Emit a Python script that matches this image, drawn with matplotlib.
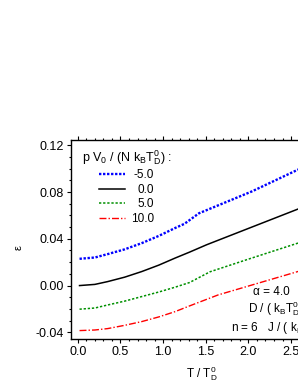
import matplotlib
matplotlib.use("Agg")
import matplotlib.pyplot as plt
from matplotlib.ticker import MultipleLocator, FormatStrFormatter

plt.rcParams['font.family'] = ['Liberation Sans', 'DejaVu Sans']
plt.rcParams['mathtext.fontset'] = 'custom'
plt.rcParams['mathtext.rm'] = 'Liberation Sans'
plt.rcParams['mathtext.it'] = 'Liberation Sans:italic'
plt.rcParams['mathtext.bf'] = 'Liberation Sans:bold'
plt.rcParams['mathtext.sf'] = 'Liberation Sans'
plt.rcParams['mathtext.default'] = 'regular'
plt.rcParams['axes.unicode_minus'] = False

# ---- data ----
T_m5 = [0.02, 0.2, 0.35, 0.55, 0.75, 0.95, 1.14, 1.25, 1.42, 2.04, 2.58, 3.0]
e_m5 = [0.0229, 0.0240, 0.0269, 0.0310, 0.0363, 0.0425, 0.0492, 0.0528, 0.0618, 0.0805, 0.0991, 0.1126]

T_0 = [0.02, 0.2, 0.35, 0.55, 0.75, 0.95, 1.14, 1.31, 1.51, 2.58, 3.0]
e_0 = [0.0, 0.0010, 0.0034, 0.0072, 0.0120, 0.0175, 0.0235, 0.0286, 0.0349, 0.0654, 0.0774]

T_5 = [0.02, 0.2, 0.35, 0.55, 0.75, 0.95, 1.14, 1.31, 1.55, 2.0, 2.58, 3.0]
e_5 = [-0.0202, -0.0192, -0.0166, -0.0133, -0.0094, -0.0055, -0.0014, 0.0026, 0.0118, 0.0226, 0.0363, 0.0463]

T_10 = [0.02, 0.2, 0.35, 0.55, 0.75, 0.95, 1.14, 1.31, 1.645, 2.58, 3.0]
e_10 = [-0.0385, -0.0380, -0.0368, -0.0340, -0.0308, -0.0268, -0.0223, -0.0174, -0.0080, 0.0120, 0.0210]

labels = ["-5.0", "0.0", "5.0", "10.0"]

fig = plt.figure(figsize=(2.98, 3.85), dpi=100)
ax = fig.add_axes([71/298, 46/385, 262.7/298, 199/385])

ax.plot(T_m5, e_m5, color='#0000ff', lw=1.7, ls=(0, (1, 0.7)), label=labels[0])
ax.plot(T_0, e_0, color='black', lw=1.1, ls='-', label=labels[1])
ax.plot(T_5, e_5, color='#009000', lw=1.1, ls=(0, (1.5, 1.2)), label=labels[2])
ax.plot(T_10, e_10, color='#ff0000', lw=1.0, ls=(0, (5, 1.5, 1, 1.5)), label=labels[3])

ax.set_xlim(-0.08, 3.0)
ax.set_ylim(-0.0457, 0.1245)

ax.xaxis.set_major_locator(MultipleLocator(0.5))
ax.xaxis.set_minor_locator(MultipleLocator(0.1))
ax.yaxis.set_major_locator(MultipleLocator(0.04))
ax.yaxis.set_minor_locator(MultipleLocator(0.01))
ax.xaxis.set_major_formatter(FormatStrFormatter('%.1f'))
ax.yaxis.set_major_formatter(FormatStrFormatter('%.2f'))

ax.tick_params(which='both', direction='out', top=True, right=True, width=0.8, labelsize=9, pad=2)
ax.tick_params(which='major', length=3.2)
ax.tick_params(which='minor', length=1.7)
for s in ax.spines.values():
    s.set_linewidth(1.0)

ax.set_ylabel('ε', fontsize=8)
ax.yaxis.set_label_coords(-0.18, 0.462)
ax.set_xlabel(r'T / T$_D^0$', fontsize=8.5)
ax.xaxis.set_label_coords(0.5, -0.125)

leg = ax.legend(title=r'p V$_0$ / (N k$_B$T$_D^0$) :', loc='upper left',
                bbox_to_anchor=(0.04, 0.96), frameon=False, fontsize=8.5,
                title_fontsize=9, handlelength=2.2, handletextpad=0.55,
                labelspacing=0.22, borderpad=0, borderaxespad=0)

ax.text(0.693, 0.234, 'α = 4.0', transform=ax.transAxes, fontsize=8.5, va='center', ha='left')
ax.text(0.675, 0.151, r'D / ( k$_B$T$_D^0$ )', transform=ax.transAxes, fontsize=8.5, va='center', ha='left')
ax.text(0.608, 0.055, r'n = 6   J / ( k$_B$T$_D^0$ )', transform=ax.transAxes, fontsize=8.5, va='center', ha='left')

# right-align the legend labels
fig.canvas.draw()
r = fig.canvas.get_renderer()
widths = [t.get_window_extent(r).width for t in leg.get_texts()]
wmax = max(widths)
for t, w in zip(leg.get_texts(), widths):
    t.set_position((wmax - w, 0))

fig.savefig('out.png', dpi=100)
